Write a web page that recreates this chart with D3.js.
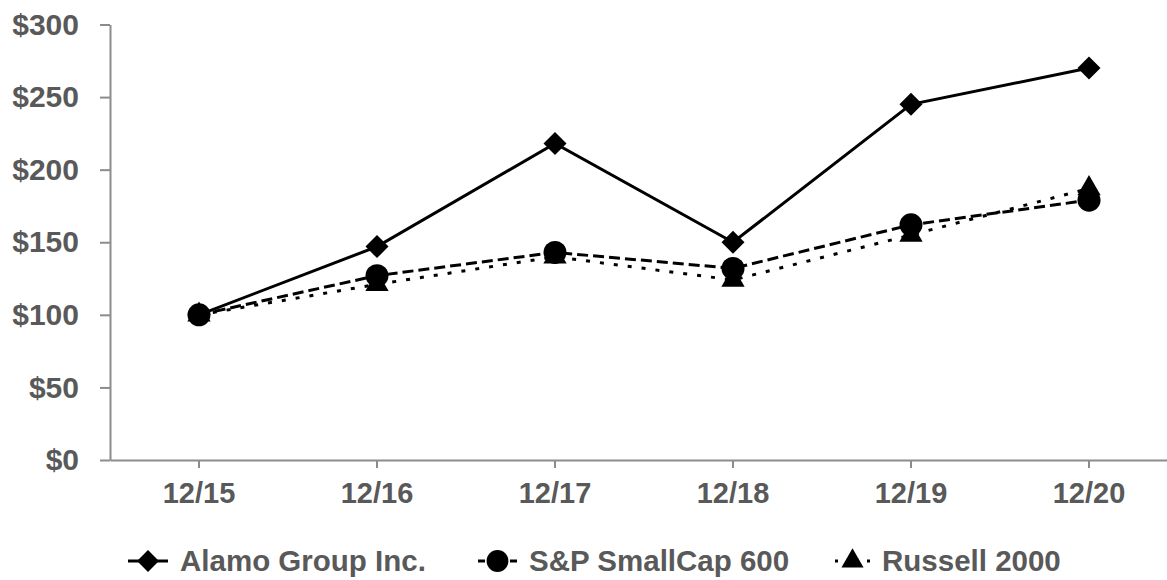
<!DOCTYPE html>
<html>
<head>
<meta charset="utf-8">
<script src="https://cdn.jsdelivr.net/npm/d3@7"></script>
<style>
  body { margin: 0; background: #fff; }
  svg text { font-family: "Liberation Sans", Arial, sans-serif; font-weight: bold; fill: #595959; }
</style>
</head>
<body>
<svg id="chart" width="1167" height="580"></svg>
<script>
/* ---- data ---- */
const years   = ["12/15", "12/16", "12/17", "12/18", "12/19", "12/20"];
const alamo   = [100, 147, 218, 150, 245, 270];
const sp600   = [100, 127, 143, 132, 162, 179];
const russell = [100, 121, 140, 124, 155, 187];
const yTicks  = [0, 50, 100, 150, 200, 250, 300];

const series = [
  { name: "Russell 2000",      values: russell, dash: "4,10", marker: d3.symbolTriangle },
  { name: "S&P SmallCap 600",  values: sp600,   dash: "11,5", marker: d3.symbolCircle },
  { name: "Alamo Group Inc.",  values: alamo,   dash: null,   marker: d3.symbolDiamond2 }
];
const markerSize = { "Alamo Group Inc.": 337, "S&P SmallCap 600": 415, "Russell 2000": 235 };

/* ---- scales ---- */
const svg = d3.select("#chart");
const x = d3.scaleBand().domain(years).range([110, 1178]);
const y = d3.scaleLinear().domain([0, 300]).range([460, 24.5]);

/* ---- axes ---- */
const gx = svg.append("g").attr("transform", "translate(0,460)")
  .call(d3.axisBottom(x).tickSize(8).tickSizeOuter(0).tickPadding(14));
gx.selectAll("text").style("font-size", "29px");

const gy = svg.append("g").attr("transform", "translate(110,0)")
  .call(d3.axisLeft(y).tickValues(yTicks).tickFormat(d => "$" + d)
          .tickSize(10).tickSizeOuter(0).tickPadding(21));
gy.selectAll("text").style("font-size", "30px");

svg.selectAll(".domain, .tick line").attr("stroke", "#8c8c8c").attr("stroke-width", 2);

/* ---- lines + markers ---- */
const cx = d => x(d) + x.bandwidth() / 2;
const line = d3.line().x((v, i) => cx(years[i])).y(v => y(v));

series.forEach(s => {
  svg.append("path")
    .attr("d", line(s.values))
    .attr("fill", "none").attr("stroke", "#000").attr("stroke-width", 3)
    .attr("stroke-dasharray", s.dash);
  svg.append("g").selectAll("path").data(s.values).join("path")
    .attr("transform", (v, i) => `translate(${cx(years[i])},${y(v)})`)
    .attr("d", d3.symbol().type(s.marker).size(markerSize[s.name]))
    .attr("fill", "#000");
});

/* ---- legend ---- */
const legendItems = [
  { name: "Alamo Group Inc.", x: 128, w: 40, dash: null },
  { name: "S&P SmallCap 600", x: 478, w: 39, dash: "7,25" },
  { name: "Russell 2000",     x: 835, w: 35, dash: "3,29" }
];
const legend = svg.append("g").attr("transform", "translate(0,561)");
legendItems.forEach(it => {
  const s = series.find(d => d.name === it.name);
  const g = legend.append("g").attr("transform", `translate(${it.x},0)`);
  g.append("line").attr("x1", 0).attr("x2", it.w).attr("y1", 0).attr("y2", 0)
    .attr("stroke", "#000").attr("stroke-width", 3)
    .attr("stroke-dasharray", it.dash);
  g.append("path").attr("transform", `translate(${it.w / 2},0)`)
    .attr("d", d3.symbol().type(s.marker).size(markerSize[s.name] * 0.9))
    .attr("fill", "#000");
  g.append("text").attr("x", it.w + 12).attr("y", 10)
    .style("font-size", "29.5px").text(it.name);
});
</script>
</body>
</html>
